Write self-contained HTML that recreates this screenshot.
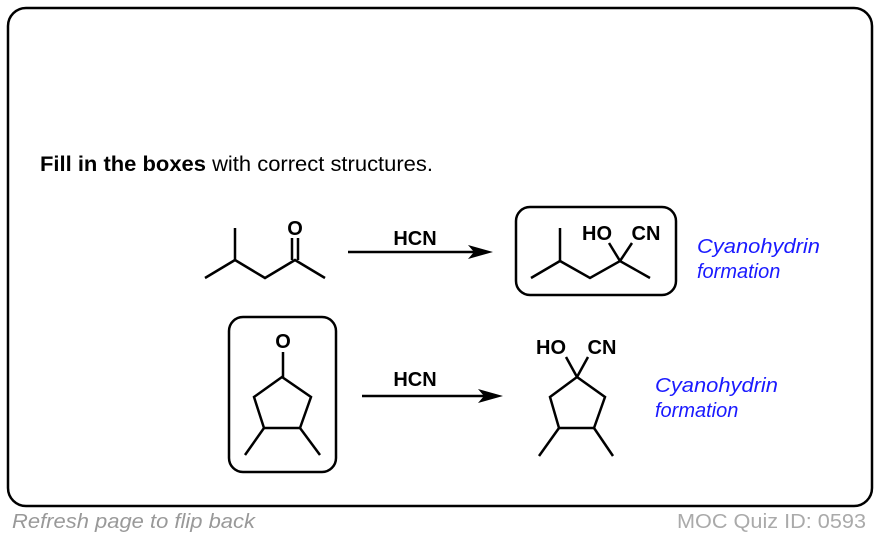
<!DOCTYPE html>
<html><head><meta charset="utf-8"><style>
html,body{margin:0;padding:0;background:#fff;}
svg{display:block;}
</style></head><body>
<svg width="880" height="538" viewBox="0 0 880 538" xmlns="http://www.w3.org/2000/svg" font-family="Liberation Sans, Arial, sans-serif">
<rect x="8" y="8" width="864" height="498" rx="18" fill="#fff" stroke="#000" stroke-width="2.5"/>
<text x="40" y="171" font-size="21" textLength="393" lengthAdjust="spacingAndGlyphs"><tspan font-weight="bold">Fill in the boxes</tspan> with correct structures.</text>

<g stroke="#000" stroke-width="2.5" fill="none" stroke-linecap="butt">
<polyline points="205,278 235,260 265,278 295,260 325,278"/>
<line x1="235" y1="260" x2="235" y2="228"/>
<line x1="292" y1="260" x2="292" y2="238"/>
<line x1="298" y1="260" x2="298" y2="238"/>
<line x1="348" y1="252" x2="478" y2="252"/>
<rect x="516" y="207" width="160" height="88" rx="14"/>
<polyline points="531,278 560,261 590,278 620,261 650,278"/>
<line x1="560" y1="261" x2="560" y2="228"/>
<line x1="620" y1="261" x2="609" y2="243"/>
<line x1="620" y1="261" x2="632" y2="243"/>
<rect x="229" y="317" width="107" height="155" rx="14"/>
<line x1="283" y1="352" x2="283" y2="377"/>
<polygon points="282,377 311,397 300,428 264,428 254,397"/>
<line x1="264" y1="428" x2="245" y2="455"/>
<line x1="300" y1="428" x2="320" y2="455"/>
<line x1="362" y1="396" x2="488" y2="396"/>
<polygon points="577,377 605,397 594,428 559,428 550,397"/>
<line x1="559" y1="428" x2="539" y2="456"/>
<line x1="594" y1="428" x2="613" y2="456"/>
<line x1="577" y1="377" x2="566" y2="357"/>
<line x1="577" y1="377" x2="588" y2="357"/>
</g>
<polygon points="493,252 468,245 474,252 468,259" fill="#000"/>
<polygon points="503,396 478,389 484,396 478,403" fill="#000"/>

<g font-weight="bold" font-size="20" text-anchor="middle" fill="#000">
<text x="295" y="235">O</text>
<text x="415" y="245">HCN</text>
<text x="597" y="240">HO</text>
<text x="646" y="240">CN</text>
<text x="283" y="348">O</text>
<text x="415" y="386">HCN</text>
<text x="551" y="354">HO</text>
<text x="602" y="354">CN</text>
</g>
<g font-style="italic" font-size="20" fill="#1a1aff">
<text x="697" y="253" textLength="123" lengthAdjust="spacingAndGlyphs">Cyanohydrin</text>
<text x="697" y="278">formation</text>
<text x="655" y="392" textLength="123" lengthAdjust="spacingAndGlyphs">Cyanohydrin</text>
<text x="655" y="417">formation</text>
</g>
<text x="12" y="528" font-size="20" font-style="italic" fill="#999" textLength="243" lengthAdjust="spacingAndGlyphs">Refresh page to flip back</text>
<text x="866" y="528" font-size="20" fill="#aaa" text-anchor="end" textLength="189" lengthAdjust="spacingAndGlyphs">MOC Quiz ID: 0593</text>
</svg>
</body></html>
